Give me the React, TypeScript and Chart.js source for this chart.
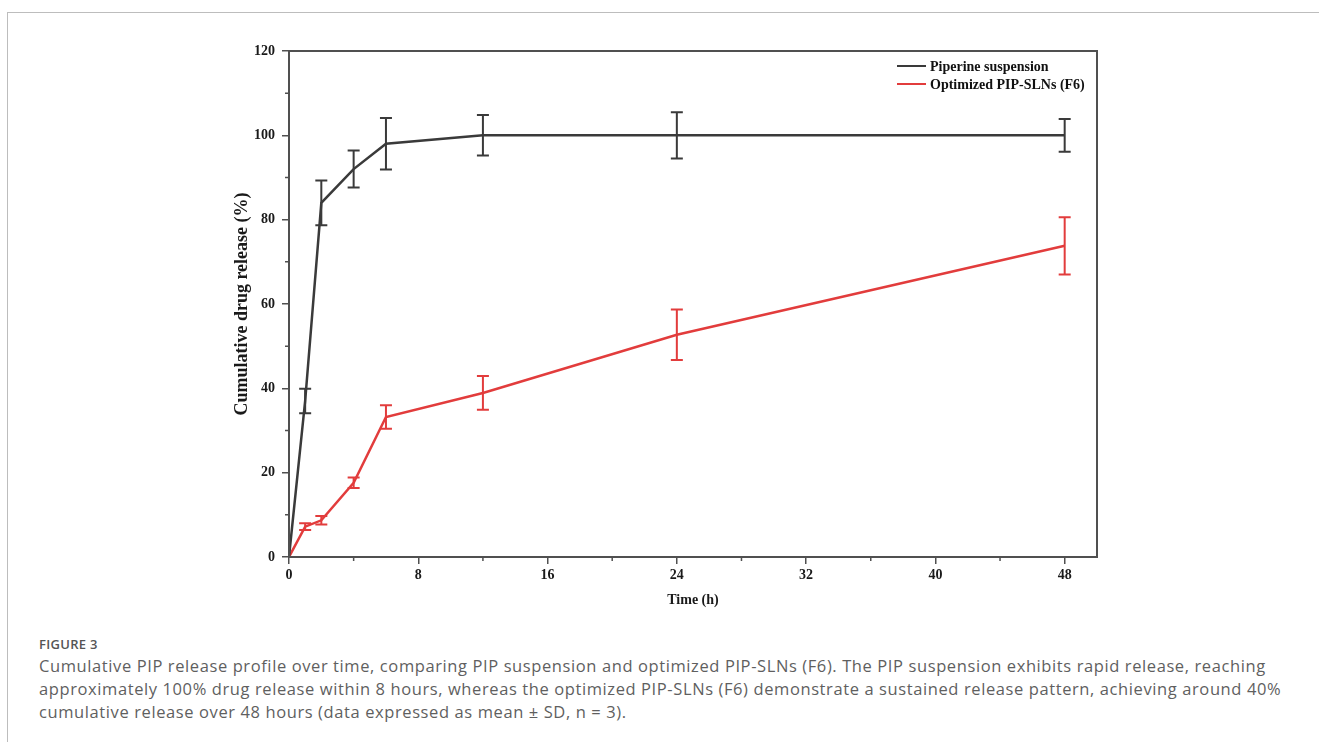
import React, { useEffect, useRef } from "react";
import { Chart, registerables } from "chart.js";

Chart.register(...registerables);

// ---- data ----
const timeHours = [0, 1, 2, 4, 6, 12, 24, 48];
const suspensionRelease = [0, 37, 84, 92, 98, 100, 100, 100];
const suspensionSD = [0, 2.9, 5.3, 4.4, 6.1, 4.8, 5.5, 3.9];
const slnRelease = [0, 7.2, 8.7, 17.6, 33.2, 38.9, 52.7, 73.8];
const slnSD = [0, 0.8, 1.0, 1.25, 2.8, 4.0, 6.0, 6.8];
const xTicks = [0, 8, 16, 24, 32, 40, 48];
const yTicks = [0, 20, 40, 60, 80, 100, 120];
const seriesLabels = ["Piperine suspension", "Optimized PIP-SLNs (F6)"];
const seriesColors = ["#3a3a3a", "#e23c3c"];
const xTitle = "Time (h)";
const yTitle = "Cumulative drug release (%)";
const figureLabel = "FIGURE 3";
const captionLines = [
  "Cumulative PIP release profile over time, comparing PIP suspension and optimized PIP-SLNs (F6). The PIP suspension exhibits rapid release, reaching",
  "approximately 100% drug release within 8 hours, whereas the optimized PIP-SLNs (F6) demonstrate a sustained release pattern, achieving around 40%",
  "cumulative release over 48 hours (data expressed as mean \u00B1 SD, n = 3).",
];

const serif = "'Liberation Serif', 'Times New Roman', serif";
const axisColor = "#505050";

const errorBarPlugin = {
  id: "errorBars",
  afterDatasetsDraw(chart: any) {
    const { ctx, scales } = chart;
    const xs = scales.x;
    const ys = scales.y;
    chart.data.datasets.forEach((ds: any) => {
      const sd: number[] = ds.errors || [];
      ctx.save();
      ctx.strokeStyle = ds.borderColor;
      ctx.lineWidth = 2;
      ds.data.forEach((pt: any, i: number) => {
        const e = sd[i];
        if (!e) return;
        const px = xs.getPixelForValue(pt.x);
        const top = ys.getPixelForValue(pt.y + e);
        const bot = ys.getPixelForValue(pt.y - e);
        const cap = 6;
        ctx.beginPath();
        ctx.moveTo(px, top);
        ctx.lineTo(px, bot);
        ctx.moveTo(px - cap, top);
        ctx.lineTo(px + cap, top);
        ctx.moveTo(px - cap, bot);
        ctx.lineTo(px + cap, bot);
        ctx.stroke();
      });
      ctx.restore();
    });
  },
};

const framePlugin = {
  id: "frameAndLegend",
  afterDraw(chart: any) {
    const { ctx, chartArea, scales } = chart;
    const { left, right, top, bottom } = chartArea;
    ctx.save();
    // box
    ctx.strokeStyle = axisColor;
    ctx.lineWidth = 2;
    ctx.strokeRect(left, top, right - left, bottom - top);
    // minor ticks
    ctx.lineWidth = 1.5;
    ctx.beginPath();
    for (let i = 0; i + 1 < xTicks.length; i++) {
      const px = scales.x.getPixelForValue((xTicks[i] + xTicks[i + 1]) / 2);
      ctx.moveTo(px, bottom);
      ctx.lineTo(px, bottom + 4);
    }
    for (let i = 0; i + 1 < yTicks.length; i++) {
      const py = scales.y.getPixelForValue((yTicks[i] + yTicks[i + 1]) / 2);
      ctx.moveTo(left, py);
      ctx.lineTo(left - 4, py);
    }
    ctx.stroke();
    // legend
    ctx.font = `bold 14px ${serif}`;
    ctx.textBaseline = "middle";
    ctx.textAlign = "left";
    chart.data.datasets.forEach((ds: any, i: number) => {
      const y = top + 15 + i * 18;
      const x0 = right - 200;
      ctx.strokeStyle = ds.borderColor;
      ctx.lineWidth = 2;
      ctx.beginPath();
      ctx.moveTo(x0, y);
      ctx.lineTo(x0 + 29, y);
      ctx.stroke();
      ctx.fillStyle = "#111";
      ctx.fillText(ds.label, x0 + 33, y + 1);
    });
    ctx.restore();
  },
};

export default function App() {
  const canvasRef = useRef<HTMLCanvasElement | null>(null);

  useEffect(() => {
    if (!canvasRef.current) return;
    const mk = (vals: number[]) => timeHours.map((t, i) => ({ x: t, y: vals[i] }));
    const chart = new Chart(canvasRef.current, {
      type: "line",
      data: {
        datasets: [
          {
            label: seriesLabels[0],
            data: mk(suspensionRelease),
            errors: suspensionSD,
            borderColor: seriesColors[0],
            backgroundColor: seriesColors[0],
            borderWidth: 2.5,
            pointRadius: 0,
            tension: 0,
          } as any,
          {
            label: seriesLabels[1],
            data: mk(slnRelease),
            errors: slnSD,
            borderColor: seriesColors[1],
            backgroundColor: seriesColors[1],
            borderWidth: 2.5,
            pointRadius: 0,
            tension: 0,
          } as any,
        ],
      },
      options: {
        animation: false,
        responsive: false,
        layout: { padding: { left: 229, right: 222, top: 51, bottom: 3 } },
        plugins: { legend: { display: false }, tooltip: { enabled: false } },
        scales: {
          x: {
            type: "linear",
            min: 0,
            max: 50,
            afterBuildTicks: (s: any) => {
              s.ticks = xTicks.map((v) => ({ value: v }));
            },
            afterFit: (s: any) => {
              s.height = 60;
            },
            ticks: {
              font: { family: serif, size: 14, weight: "bold" },
              color: "#1a1a1a",
              padding: 3,
              maxRotation: 0,
            },
            grid: {
              display: true,
              drawOnChartArea: false,
              drawTicks: true,
              tickLength: 7,
              color: axisColor,
              lineWidth: 1.5,
            },
            border: { display: true, color: axisColor, width: 2 },
            title: {
              display: true,
              text: xTitle,
              font: { family: serif, size: 14, weight: "bold" },
              color: "#1a1a1a",
              padding: { top: 4, bottom: 8 },
            },
          },
          y: {
            type: "linear",
            min: 0,
            max: 120,
            afterBuildTicks: (s: any) => {
              s.ticks = yTicks.map((v) => ({ value: v }));
            },
            afterFit: (s: any) => {
              s.width = 60;
            },
            ticks: {
              font: { family: serif, size: 14, weight: "bold" },
              color: "#1a1a1a",
              padding: 7,
            },
            grid: {
              display: true,
              drawOnChartArea: false,
              drawTicks: true,
              tickLength: 7,
              color: axisColor,
              lineWidth: 1.5,
            },
            border: { display: true, color: axisColor, width: 2 },
            title: {
              display: true,
              text: yTitle,
              font: { family: serif, size: 18, weight: "bold" },
              color: "#1a1a1a",
              padding: { top: 3, bottom: 4 },
            },
          },
        },
      },
      plugins: [errorBarPlugin, framePlugin],
    } as any);
    return () => chart.destroy();
  }, []);

  return (
    <div
      style={{
        position: "absolute",
        left: 0,
        top: 0,
        width: 1319,
        height: 742,
        background: "#fff",
        overflow: "hidden",
      }}
    >
      <div
        style={{
          position: "absolute",
          left: 7,
          top: 12,
          right: -2,
          bottom: -2,
          borderLeft: "1px solid #bdbdbd",
          borderTop: "1px solid #bdbdbd",
        }}
      />
      <canvas
        ref={canvasRef}
        width={1319}
        height={620}
        style={{ position: "absolute", left: 0, top: 0, width: 1319, height: 620 }}
      />
      <div
        style={{
          position: "absolute",
          left: 39,
          top: 634,
          fontFamily: "'Open Sans', 'Noto Sans', sans-serif",
          color: "#5f5f5f",
          whiteSpace: "nowrap",
        }}
      >
        <div style={{ fontSize: 13, fontWeight: 600, lineHeight: "20px", color: "#555", letterSpacing: 0.3 }}>
          {figureLabel}
        </div>
        {captionLines.map((l, i) => (
          <div key={i} style={{ fontSize: 16.5, lineHeight: "23px", letterSpacing: 0.6 }}>
            {l}
          </div>
        ))}
      </div>
    </div>
  );
}
